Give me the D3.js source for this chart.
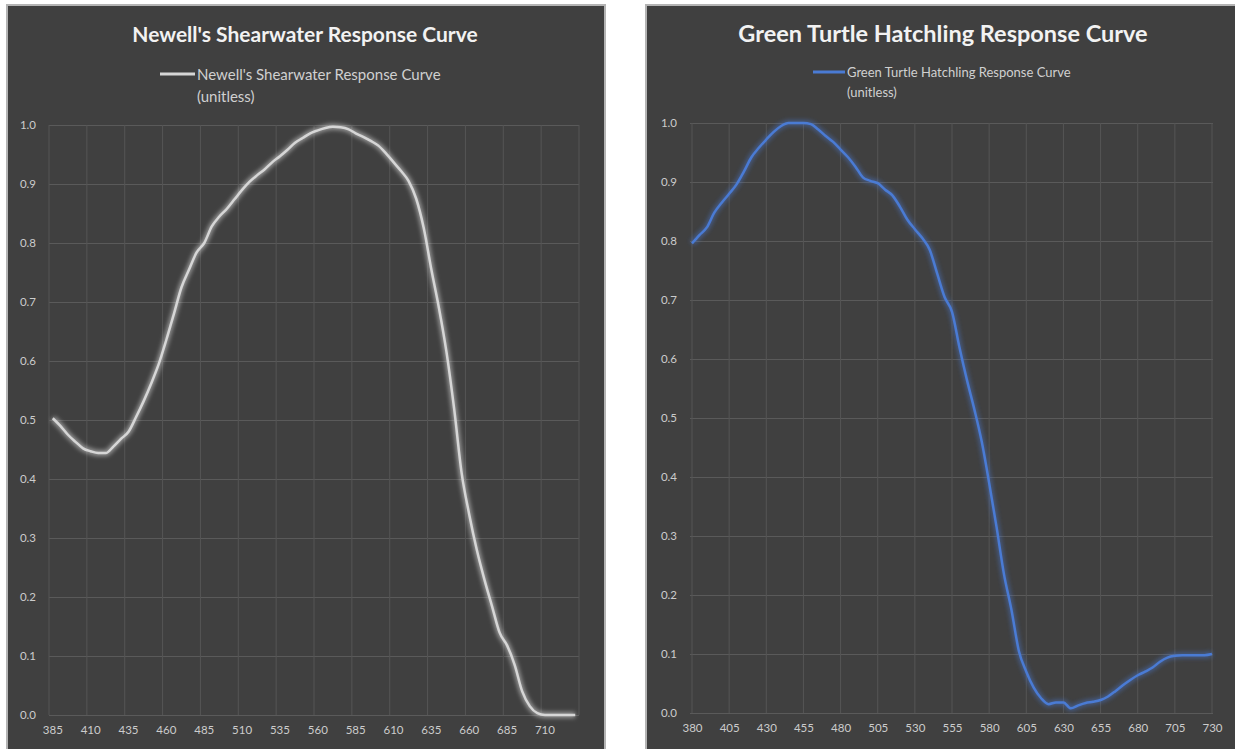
<!DOCTYPE html>
<html>
<head>
<meta charset="utf-8">
<script src="https://cdn.jsdelivr.net/npm/d3@7"></script>
<style>
  body { margin: 0; background: #ffffff; }
  svg { display: block; }
  text { font-family: Lato, "Open Sans", sans-serif; }
</style>
</head>
<body>
<svg id="chart" width="1235" height="749"></svg>
<script>
// wavelengths (nm), one category every 5 nm
var shearwaterNm = d3.range(385, 731, 5);
var turtleNm = d3.range(380, 731, 5);

// Newell's Shearwater response, 385..730
var shearwaterValues = [
  0.503, 0.490, 0.475, 0.463, 0.452, 0.447, 0.444, 0.444, 0.455, 0.468,
  0.480, 0.505, 0.532, 0.562, 0.595, 0.636, 0.680, 0.725, 0.755, 0.784,
  0.800, 0.828, 0.845, 0.858, 0.874, 0.890, 0.904, 0.915, 0.925, 0.937,
  0.947, 0.958, 0.970, 0.978, 0.986, 0.991, 0.995, 0.997, 0.996, 0.993,
  0.986, 0.980, 0.973, 0.965, 0.952, 0.937, 0.922, 0.905, 0.875, 0.825,
  0.755, 0.690, 0.615, 0.520, 0.410, 0.340, 0.280, 0.230, 0.185, 0.140,
  0.118, 0.085, 0.040, 0.015, 0.003, 0.000, 0.000, 0.000, 0.000, 0.000
];

// Green Turtle Hatchling response, 380..730
var turtleValues = [
  0.796, 0.810, 0.823, 0.848, 0.865, 0.880, 0.896, 0.918, 0.942, 0.958,
  0.972, 0.985, 0.995, 1.000, 1.000, 1.000, 0.998, 0.989, 0.978, 0.968,
  0.955, 0.942, 0.926, 0.908, 0.902, 0.898, 0.887, 0.877, 0.858, 0.836,
  0.820, 0.805, 0.785, 0.745, 0.705, 0.680, 0.620, 0.565, 0.515, 0.460,
  0.390, 0.315, 0.235, 0.175, 0.105, 0.070, 0.043, 0.025, 0.015, 0.018,
  0.018, 0.008, 0.013, 0.017, 0.019, 0.022, 0.028, 0.037, 0.047, 0.056,
  0.064, 0.070, 0.077, 0.087, 0.094, 0.097, 0.098, 0.098, 0.098, 0.098,
  0.100
];

var yTicks = [0, 0.1, 0.2, 0.3, 0.4, 0.5, 0.6, 0.7, 0.8, 0.9, 1.0];

var svg = d3.select("#chart");

var defs = svg.append("defs");
defs.append("filter").attr("id", "glow")
  .attr("x", "-10%").attr("y", "-10%").attr("width", "120%").attr("height", "120%")
  .append("feGaussianBlur").attr("stdDeviation", 2.2);

function drawPanel(opt) {
  var g = svg.append("g");

  // panel background with light border
  g.append("rect")
    .attr("x", opt.panel[0] + 1).attr("y", opt.panel[1] + 1)
    .attr("width", opt.panel[2] - 2).attr("height", opt.panel[3])
    .attr("fill", "#404040")
    .attr("stroke", "#b4b4b4").attr("stroke-width", 2);

  // title
  g.append("text")
    .attr("x", opt.titleX).attr("y", 33)
    .attr("text-anchor", "middle").attr("dominant-baseline", "central")
    .attr("fill", "#f2f2f2").attr("font-weight", "bold")
    .attr("font-size", opt.titleSize)
    .text(opt.title);

  // legend
  g.append("line")
    .attr("x1", opt.legend[0]).attr("x2", opt.legend[0] + opt.legend[2])
    .attr("y1", opt.legend[1]).attr("y2", opt.legend[1])
    .attr("stroke", opt.color).attr("stroke-width", 3);
  var lt = g.append("text")
    .attr("fill", "#d0d0d0").attr("font-size", opt.legendSize);
  lt.append("tspan")
    .attr("x", opt.legend[0] + opt.legend[2] + 2).attr("y", opt.legend[1])
    .attr("dominant-baseline", "central")
    .text(opt.legendText[0]);
  lt.append("tspan")
    .attr("x", opt.legend[0] + opt.legend[2] + 2).attr("y", opt.legend[1] + opt.legendGap)
    .attr("dominant-baseline", "central")
    .text(opt.legendText[1]);

  var x = opt.x, y = opt.y;
  var left = opt.plot[0], right = opt.plot[1];

  // horizontal gridlines
  g.append("g")
    .attr("transform", "translate(" + left + ",0)")
    .call(d3.axisLeft(y).tickValues(yTicks).tickSize(-(right - left)).tickFormat(""))
    .call(s => s.select(".domain").remove())
    .selectAll("line").attr("stroke", "#5a5a5a").attr("stroke-width", 1);

  // vertical gridlines
  g.selectAll(".vgrid")
    .data(opt.gridX)
    .enter().append("line")
    .attr("x1", d => d).attr("x2", d => d)
    .attr("y1", y(1)).attr("y2", y(0))
    .attr("stroke", "#555555").attr("stroke-width", 1);

  // y labels
  g.append("g")
    .attr("transform", "translate(" + left + ",0)")
    .call(d3.axisLeft(y).tickValues(yTicks).tickSize(0).tickPadding(13).tickFormat(d3.format(".1f")))
    .call(s => s.select(".domain").remove())
    .selectAll("text")
      .attr("fill", "#cccccc")
      .attr("font-size", 11.5)
      .attr("font-family", "Lato, sans-serif");

  // x labels
  g.append("g")
    .attr("transform", "translate(0," + y(0) + ")")
    .call(d3.axisBottom(opt.xAxisScale).tickValues(opt.xLabels).tickSize(0).tickPadding(11))
    .call(s => s.select(".domain").remove())
    .selectAll("text")
      .attr("fill", "#cccccc")
      .attr("font-size", 11.5)
      .attr("font-family", "Lato, sans-serif");

  var line = d3.line()
    .x((d, i) => opt.px(opt.cats[i]))
    .y(d => y(d))
    .curve(d3.curveMonotoneX);

  // glow underneath
  g.append("path")
    .datum(opt.values)
    .attr("d", line)
    .attr("fill", "none")
    .attr("stroke", opt.glow).attr("stroke-opacity", 0.45)
    .attr("stroke-width", 6)
    .attr("filter", "url(#glow)");

  g.append("path")
    .datum(opt.values)
    .attr("d", line)
    .attr("fill", "none")
    .attr("stroke", opt.color)
    .attr("stroke-width", 2.5)
    .attr("stroke-linejoin", "round");
}

// left chart: categories sit between tick marks
var xLeft = d3.scaleBand().domain(shearwaterNm).range([49, 579]).paddingInner(0).paddingOuter(0);
var yLeft = d3.scaleLinear().domain([0, 1]).range([715, 125]);
var leftGrid = shearwaterNm.filter((d, i) => i % 5 === 0).map(d => xLeft(d)).concat([579]);

drawPanel({
  panel: [6, 4, 600, 760],
  title: "Newell's Shearwater Response Curve",
  titleX: 305, titleSize: 21,
  legend: [160, 74, 35], legendGap: 22, legendSize: 15,
  legendText: ["Newell's Shearwater Response Curve", "(unitless)"],
  color: "#d6d6d6", glow: "#ffffff",
  x: xLeft, y: yLeft, plot: [49, 579],
  gridX: leftGrid,
  xAxisScale: xLeft,
  xLabels: shearwaterNm.filter((d, i) => i % 5 === 0),
  cats: shearwaterNm, values: shearwaterValues,
  px: d => xLeft(d) + xLeft.bandwidth() / 2
});

// right chart: categories sit on tick marks
var xRight = d3.scalePoint().domain(turtleNm).range([692, 1212]);
var yRight = d3.scaleLinear().domain([0, 1]).range([713, 123]);
var rightGrid = turtleNm.filter((d, i) => i % 5 === 0).map(d => xRight(d));

drawPanel({
  panel: [645, 4, 600, 760],
  title: "Green Turtle Hatchling Response Curve",
  titleX: 943, titleSize: 23.5,
  legend: [813, 72, 32], legendGap: 20, legendSize: 13,
  legendText: ["Green Turtle Hatchling Response Curve", "(unitless)"],
  color: "#4a7bd4", glow: "#4a7bd4",
  x: xRight, y: yRight, plot: [690, 1213],
  gridX: rightGrid,
  xAxisScale: xRight,
  xLabels: turtleNm.filter((d, i) => i % 5 === 0),
  cats: turtleNm, values: turtleValues,
  px: d => xRight(d)
});
</script>
</body>
</html>
